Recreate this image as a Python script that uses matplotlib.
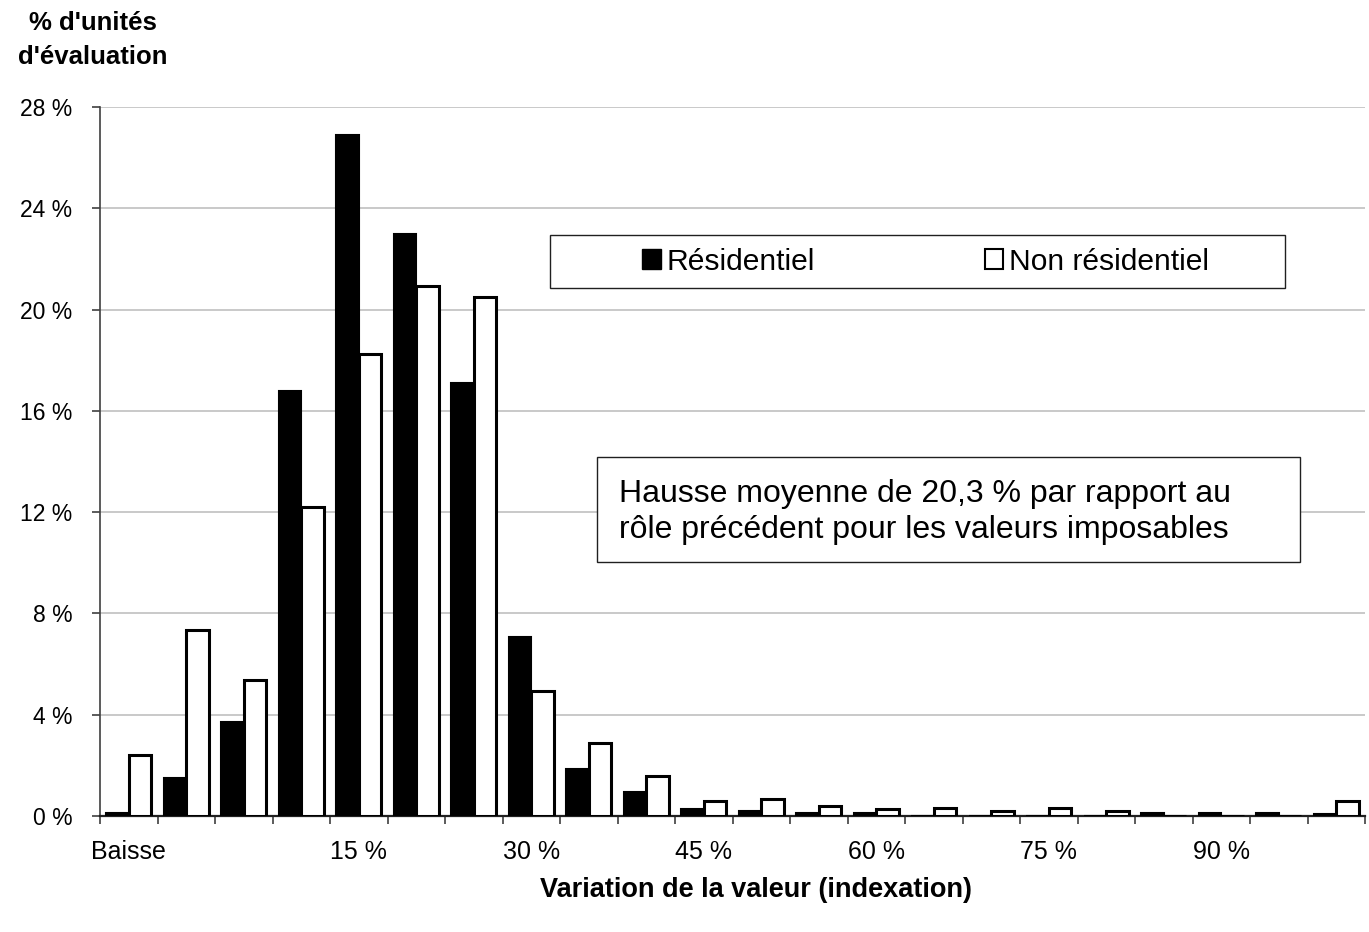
import matplotlib
matplotlib.use("Agg")
import matplotlib.pyplot as plt
import numpy as np
from matplotlib.patches import Patch, Rectangle

plt.rcParams['font.family'] = ['Liberation Sans', 'DejaVu Sans']

categories = ["Baisse", "0 %", "5 %", "10 %", "15 %", "20 %", "25 %", "30 %", "35 %", "40 %",
              "45 %", "50 %", "55 %", "60 %", "65 %", "70 %", "75 %", "80 %", "85 %", "90 %",
              "95 %", "100 %"]
residentiel = [0.1, 1.5, 3.7, 16.8, 26.9, 23.0, 17.1, 7.05, 1.85, 0.95, 0.28, 0.2, 0.12, 0.1,
               0.0, 0.0, 0.0, 0.0, 0.12, 0.12, 0.12, 0.08]
non_residentiel = [2.42, 7.34, 5.39, 12.2, 18.25, 20.95, 20.5, 4.94, 2.89, 1.59, 0.58, 0.67, 0.38,
                   0.29, 0.3, 0.21, 0.3, 0.21, 0.0, 0.0, 0.0, 0.58]
shown_labels = {0: "Baisse", 4: "15 %", 7: "30 %", 10: "45 %", 13: "60 %", 16: "75 %", 19: "90 %"}
yticks = [0, 4, 8, 12, 16, 20, 24, 28]

fig = plt.figure(figsize=(13.69, 9.32), dpi=100)
ax = fig.add_axes([100/1369, 1-816/932, 1265/1369, 709/932])

x = np.arange(len(categories))
w = 0.39
ax.bar(x - w/2, residentiel, width=w, color='black', edgecolor='black', linewidth=1.5, zorder=3)
ax.bar(x + w/2, non_residentiel, width=w, color='white', edgecolor='black', linewidth=2.2, zorder=3)

ax.set_xlim(-0.5, len(categories) - 0.5)
ax.set_ylim(0, 28)
ax.set_yticks(yticks)
ax.set_yticklabels([f"{t} %" for t in yticks], fontsize=16.5)
ax.yaxis.grid(True, color='#c0c0c0', linewidth=1.2, zorder=0)
ax.set_axisbelow(True)

ax.set_xticks(list(shown_labels.keys()))
ax.set_xticklabels(list(shown_labels.values()), fontsize=18)
ax.tick_params(axis='x', which='major', length=0, pad=17)
ax.set_xticks(np.arange(-0.5, len(categories), 1.0), minor=True)
ax.tick_params(axis='x', which='minor', length=6, width=1.2, color='#404040', direction='out')
ax.tick_params(axis='y', length=6, width=1.2, color='#404040', pad=14)

for s in ['top', 'right']:
    ax.spines[s].set_visible(False)
ax.spines['left'].set_color('#404040')
ax.spines['left'].set_linewidth(1.2)
ax.spines['bottom'].set_color('#202020')
ax.spines['bottom'].set_linewidth(1.6)

# legend frame + legend
lx0, lx1 = (550-100)/1265, (1285-100)/1265
ly0, ly1 = (816-288)/709, (816-235)/709
ax.add_patch(Rectangle((lx0, ly0), lx1-lx0, ly1-ly0, transform=ax.transAxes,
                       facecolor='white', edgecolor='#202020', linewidth=1.0, zorder=5))
handles = [Patch(facecolor='black', edgecolor='black', label='Résidentiel'),
           Patch(facecolor='white', edgecolor='black', linewidth=1.5, label='Non résidentiel')]
leg = ax.legend(handles=handles, ncol=2, loc='center',
                bbox_to_anchor=((lx0+lx1)/2 + 0.0065, (ly0+ly1)/2), frameon=False,
                fontsize=21.6, handlelength=0.62, handleheight=0.62, handletextpad=0.2,
                columnspacing=5.65, borderaxespad=0, borderpad=0)
leg.set_zorder(6)

# annotation box
ax0, ax1 = (597-100)/1265, (1300-100)/1265
ay0, ay1 = (816-562)/709, (816-457)/709
ax.add_patch(Rectangle((ax0, ay0), ax1-ax0, ay1-ay0, transform=ax.transAxes,
                       facecolor='white', edgecolor='#202020', linewidth=1.0, zorder=5))
ax.text((619-100)/1265, (ay0+ay1)/2 - 0.003, "Hausse moyenne de 20,3 % par rapport au\nrôle précédent pour les valeurs imposables",
        transform=ax.transAxes, fontsize=23, ha='left', va='center', linespacing=1.27, zorder=6)

fig.text(93/1369, 1-40/932, "% d'unités\nd'évaluation", fontsize=18.5, fontweight='bold',
         ha='center', va='center', linespacing=1.52)
fig.text(756/1369, 1-890/932, "Variation de la valeur (indexation)", fontsize=19.5,
         fontweight='bold', ha='center', va='center')

fig.savefig("out.png", dpi=100, facecolor='white')
